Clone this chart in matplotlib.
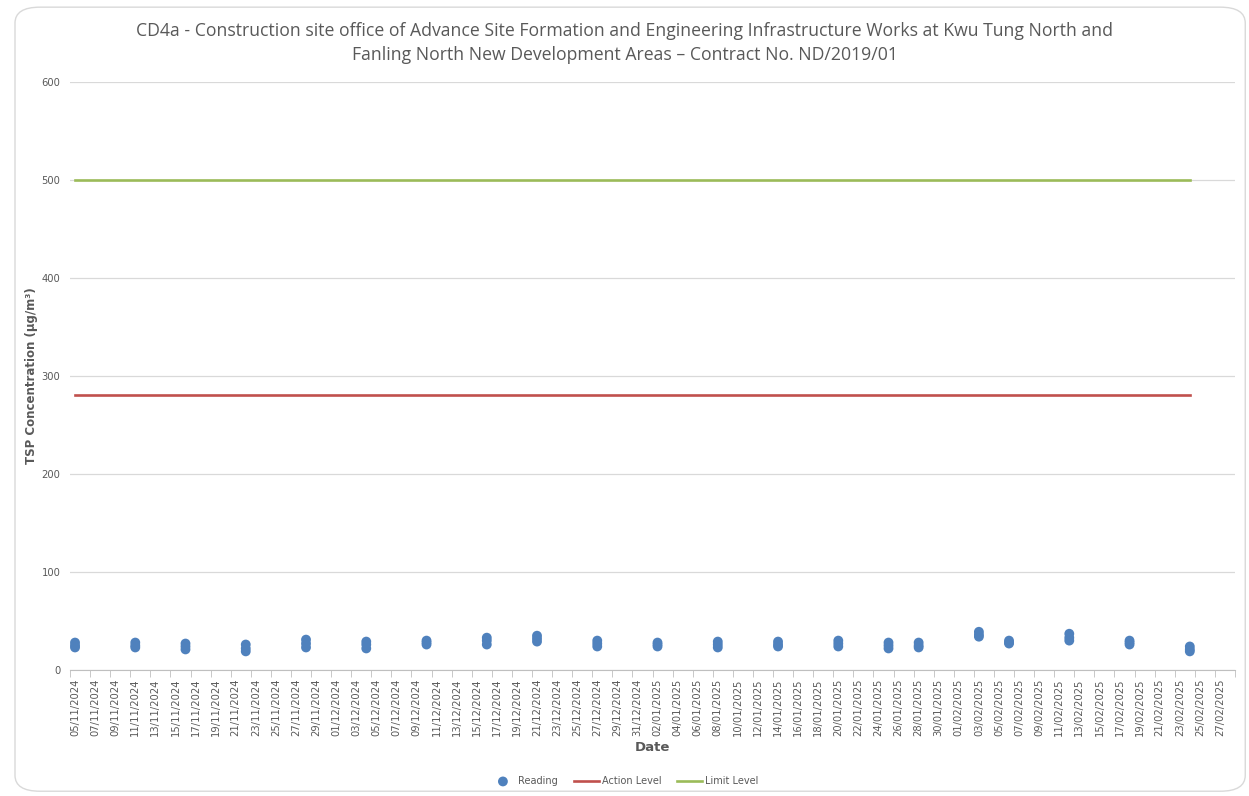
import matplotlib.pyplot as plt
import matplotlib.dates as mdates
from matplotlib.patches import FancyBboxPatch
import datetime as dt

# dias de medicion (3 lecturas por dia)
fechas = ["05/11/2024", "11/11/2024", "16/11/2024", "22/11/2024", "28/11/2024",
          "04/12/2024", "10/12/2024", "16/12/2024", "21/12/2024", "27/12/2024",
          "02/01/2025", "08/01/2025", "14/01/2025", "20/01/2025", "25/01/2025",
          "28/01/2025", "03/02/2025", "06/02/2025", "12/02/2025", "18/02/2025",
          "24/02/2025"]
lectura_1 = [28, 28, 27, 26, 31, 29, 30, 33, 35, 30, 28, 29, 29, 30, 28, 28, 39, 30, 37, 30, 24]
lectura_2 = [25, 25, 24, 22, 27, 26, 28, 30, 32, 27, 26, 26, 26, 27, 25, 25, 36, 28, 33, 28, 21]
lectura_3 = [23, 23, 21, 19, 23, 22, 26, 26, 29, 24, 24, 23, 24, 24, 22, 23, 34, 27, 30, 26, 19]

action_level = 281
limit_level = 500

inicio = "05/11/2024"
fin = "28/02/2025"

gris = "#595959"


def a_fecha(s):
    return dt.datetime.strptime(s, "%d/%m/%Y")


dias = [a_fecha(f) for f in fechas]
x0 = a_fecha(inicio)
x1 = a_fecha(fin)

fig = plt.figure(figsize=(12.49, 7.96), dpi=100)
fig.patches.append(FancyBboxPatch((0.012, 0.006), 0.985, 0.985, boxstyle="round,pad=0,rounding_size=0.02",
                                  transform=fig.transFigure, facecolor="white", edgecolor="#d9d9d9",
                                  linewidth=1, zorder=-10))
ax = fig.add_axes([70 / 1249, 1 - 670 / 796, (1235 - 70) / 1249, (670 - 82) / 796])

todas_x = dias * 3
todas_y = lectura_1 + lectura_2 + lectura_3
ax.scatter(todas_x, todas_y, s=50, color="#4f81bd", edgecolors="none", zorder=3, label="Reading")
ax.plot([dias[0], dias[-1]], [action_level, action_level], color="#c0504d", lw=1.9, label="Action Level", zorder=2)
ax.plot([dias[0], dias[-1]], [limit_level, limit_level], color="#9bbb59", lw=1.9, label="Limit Level", zorder=2)

medio_dia = dt.timedelta(hours=12)
ax.set_xlim(x0 - medio_dia, x1 + medio_dia)
ax.set_ylim(0, 600)
ax.set_yticks(range(0, 601, 100))
ax.grid(axis="y", color="#d9d9d9", lw=0.9)
ax.set_axisbelow(True)

etiquetas = []
d = x0
while d <= x1:
    etiquetas.append(d)
    d += dt.timedelta(days=2)
ax.set_xticks(etiquetas)
ax.xaxis.set_major_formatter(mdates.DateFormatter("%d/%m/%Y"))
ax.set_xticks([e - medio_dia for e in etiquetas] + [x1 + medio_dia], minor=True)
ax.tick_params(axis="x", which="major", length=0, labelrotation=90, labelsize=7.2, colors=gris, pad=6)
ax.tick_params(axis="x", which="minor", length=5, color="#bfbfbf")
ax.tick_params(axis="y", length=0, labelsize=7.2, colors=gris, pad=7)

for lado in ["top", "right", "left"]:
    ax.spines[lado].set_visible(False)
ax.spines["bottom"].set_color("#bfbfbf")

ax.set_ylabel("TSP Concentration (µg/m³)", fontsize=8.5, fontweight="bold", color=gris)
ax.yaxis.set_label_coords((38 - 70) / (1235 - 70), 0.5)
ax.set_xlabel("Date", fontsize=9.5, fontweight="bold", color=gris, labelpad=4)

fig.text(0.5, 1 - 43 / 796,
         "CD4a - Construction site office of Advance Site Formation and Engineering Infrastructure Works at Kwu Tung North and\n"
         "Fanling North New Development Areas – Contract No. ND/2019/01",
         ha="center", va="center", fontsize=12.7, color=gris, family="Open Sans", linespacing=1.45)

fig.legend(loc="center", bbox_to_anchor=(0.5, 1 - 781 / 796), ncol=3, frameon=False,
           fontsize=7, labelcolor=gris, handlelength=2.6, columnspacing=1.6, handletextpad=0.3)

fig.savefig("out.png", dpi=100)
